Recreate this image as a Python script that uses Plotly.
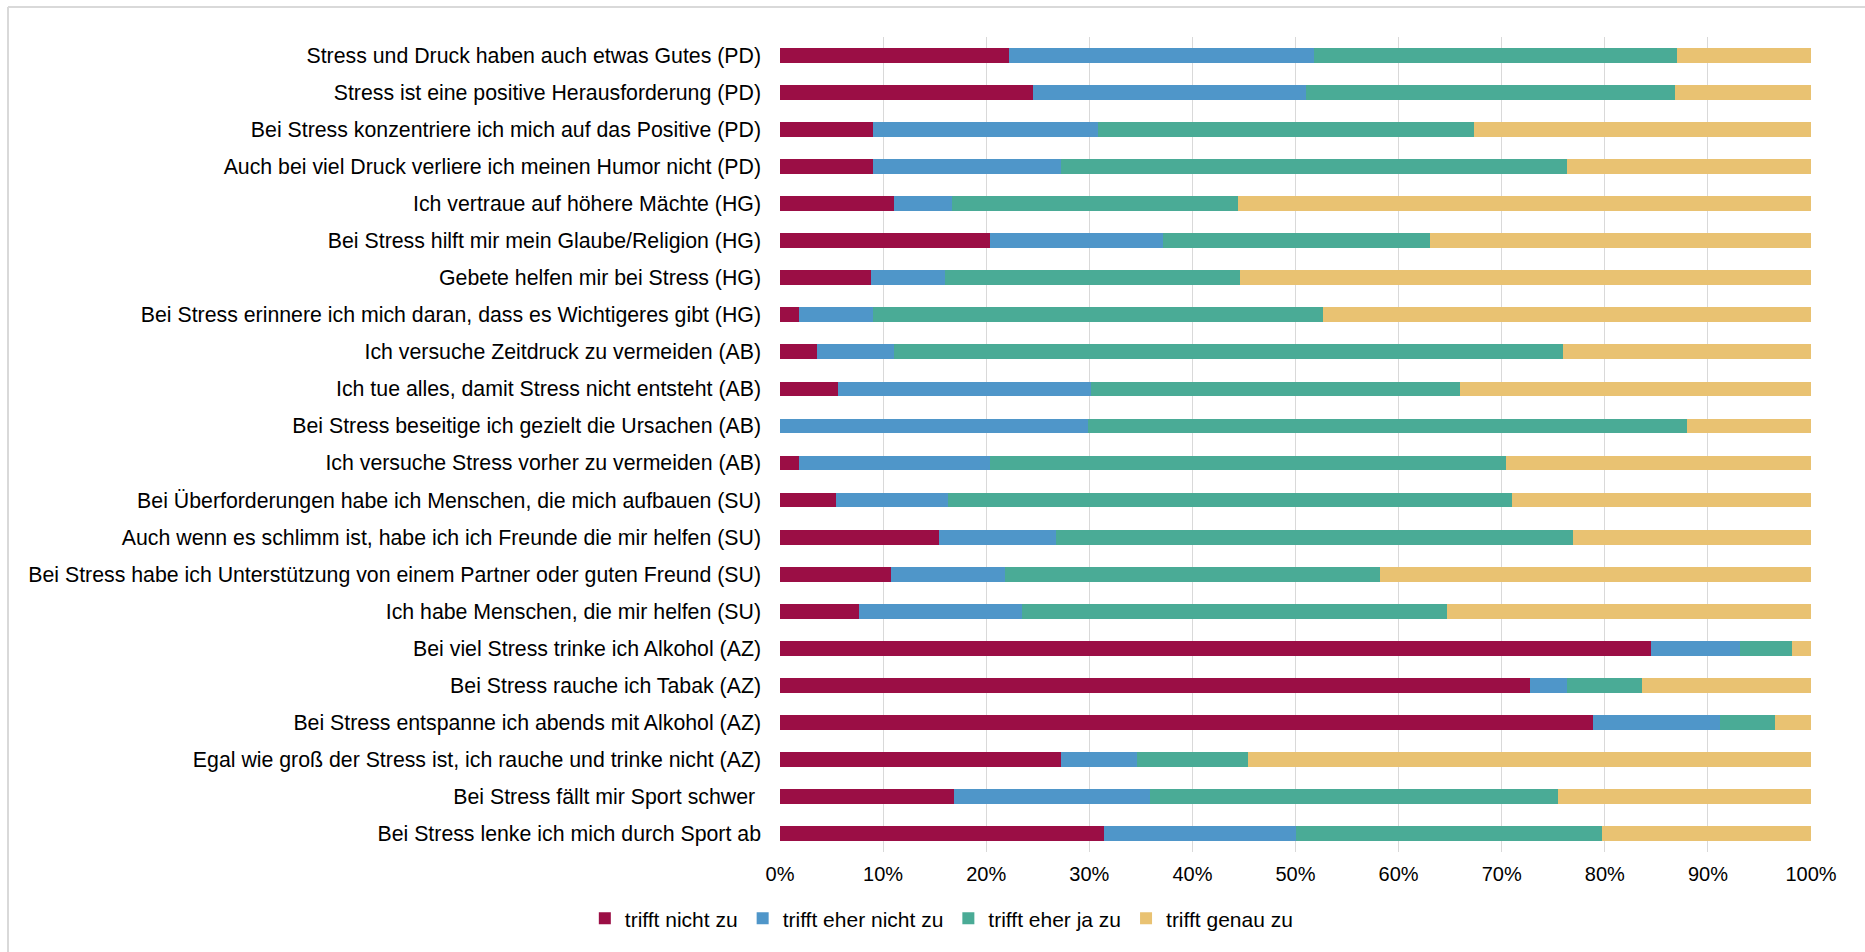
import plotly.graph_objects as go

# Survey items (top to bottom)
items = [
    "Stress und Druck haben auch etwas Gutes (PD)",
    "Stress ist eine positive Herausforderung (PD)",
    "Bei Stress konzentriere ich mich auf das Positive (PD)",
    "Auch bei viel Druck verliere ich meinen Humor nicht (PD)",
    "Ich vertraue auf höhere Mächte (HG)",
    "Bei Stress hilft mir mein Glaube/Religion (HG)",
    "Gebete helfen mir bei Stress (HG)",
    "Bei Stress erinnere ich mich daran, dass es Wichtigeres gibt (HG)",
    "Ich versuche Zeitdruck zu vermeiden (AB)",
    "Ich tue alles, damit Stress nicht entsteht (AB)",
    "Bei Stress beseitige ich gezielt die Ursachen (AB)",
    "Ich versuche Stress vorher zu vermeiden (AB)",
    "Bei Überforderungen habe ich Menschen, die mich aufbauen (SU)",
    "Auch wenn es schlimm ist, habe ich ich Freunde die mir helfen (SU)",
    "Bei Stress habe ich Unterstützung von einem Partner oder guten Freund (SU)",
    "Ich habe Menschen, die mir helfen (SU)",
    "Bei viel Stress trinke ich Alkohol (AZ)",
    "Bei Stress rauche ich Tabak (AZ)",
    "Bei Stress entspanne ich abends mit Alkohol (AZ)",
    "Egal wie groß der Stress ist, ich rauche und trinke nicht (AZ)",
    "Bei Stress fällt mir Sport schwer ",
    "Bei Stress lenke ich mich durch Sport ab",
]

# Shares per answer category (percent)
trifft_nicht_zu = [22.2, 24.5, 9.0, 9.0, 11.1, 20.4, 8.8, 1.8, 3.6, 5.6, 0.0,
                   1.8, 5.4, 15.4, 10.8, 7.7, 84.5, 72.7, 78.9, 27.3, 16.9, 31.4]
trifft_eher_nicht_zu = [29.6, 26.5, 21.8, 18.3, 5.6, 16.7, 7.2, 7.2, 7.5, 24.6, 29.9,
                        18.6, 10.9, 11.4, 11.0, 15.8, 8.6, 3.6, 12.3, 7.3, 19.0, 18.6]
trifft_eher_ja_zu = [35.2, 35.8, 36.5, 49.0, 27.7, 25.9, 28.6, 43.7, 64.8, 35.8, 58.1,
                     50.0, 54.7, 50.1, 36.4, 41.2, 5.1, 7.3, 5.3, 10.8, 39.6, 29.7]
trifft_genau_zu = [13.0, 13.2, 32.7, 23.7, 55.6, 37.0, 55.4, 47.3, 24.1, 34.0, 12.0,
                   29.6, 29.0, 23.1, 41.8, 35.3, 1.8, 16.4, 3.5, 54.6, 24.5, 20.3]

series = [
    ("trifft nicht zu", trifft_nicht_zu, "#9B0E45"),
    ("trifft eher nicht zu", trifft_eher_nicht_zu, "#4F96C9"),
    ("trifft eher ja zu", trifft_eher_ja_zu, "#4AAB96"),
    ("trifft genau zu", trifft_genau_zu, "#E9C272"),
]

FONT = "Liberation Sans, Arial, sans-serif"

fig = go.Figure()
for name, vals, color in series:
    fig.add_trace(go.Bar(
        y=items, x=[v / 100 for v in vals], name=name, orientation="h",
        marker=dict(color=color, line=dict(width=0)), width=0.4,
    ))

W, H = 1865, 952
L, R, T, B = 780, 54, 37, 100
PW, PH = W - L - R, H - T - B

fig.update_layout(
    width=W, height=H,
    barmode="stack",
    plot_bgcolor="white", paper_bgcolor="white",
    margin=dict(l=L, r=R, t=T, b=B, pad=0),
    font=dict(family=FONT, size=21, color="#000000"),
    xaxis=dict(
        range=[0, 1], tickvals=[i / 10 for i in range(11)],
        ticktext=[f"{i * 10}%" for i in range(11)],
        showgrid=True, gridcolor="#D9D9D9", gridwidth=1,
        zeroline=False, showline=False, ticks="", ticklen=0,
        tickfont=dict(size=20), ticklabelstandoff=8, fixedrange=True,
    ),
    yaxis=dict(
        autorange="reversed", showgrid=False, showline=False, ticks="",
        ticklabelstandoff=18, tickfont=dict(size=21.3),
    ),
    showlegend=True,
    legend=dict(
        orientation="h", xref="container", yref="container",
        x=0.505, xanchor="center", y=0.035, yanchor="middle",
        font=dict(size=21), itemwidth=30, traceorder="normal",
    ),
)

# Chart frame: top and left edges
frame = dict(color="#D9D9D9", width=2)
fig.add_shape(type="line", xref="paper", yref="paper",
              x0=(8 - L) / PW, x1=(W - L) / PW,
              y0=1 + (T - 7) / PH, y1=1 + (T - 7) / PH, line=frame)
fig.add_shape(type="line", xref="paper", yref="paper",
              x0=(8 - L) / PW, x1=(8 - L) / PW,
              y0=1 + (T - 7) / PH, y1=-(B + 5) / PH, line=frame)

fig.write_html("out.html")
